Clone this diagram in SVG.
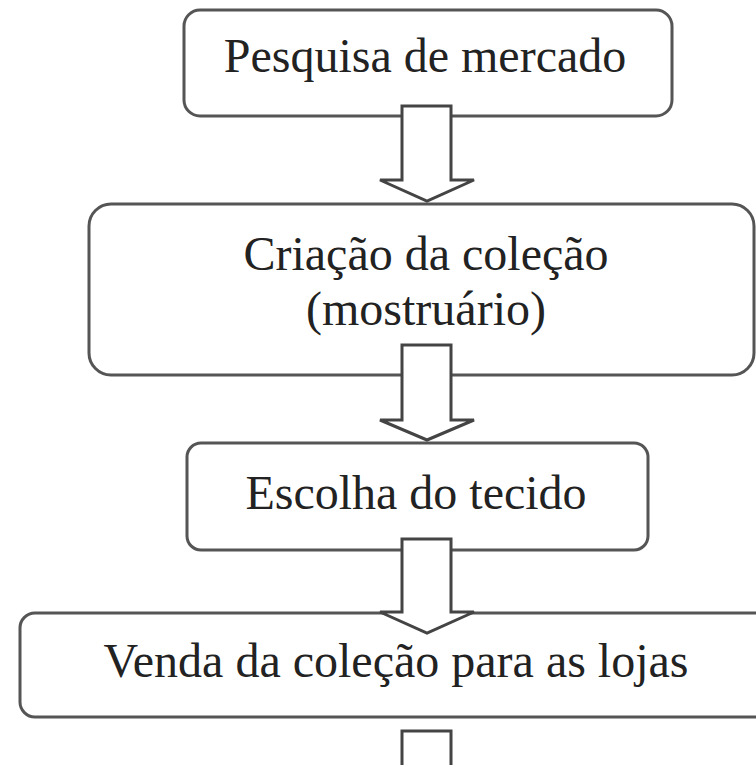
<svg xmlns="http://www.w3.org/2000/svg" width="756" height="765" viewBox="0 0 756 765">
<style>
.box{fill:#fff;stroke:#555;stroke-width:3}
.lbl{font-family:"Liberation Serif","Times New Roman",serif;font-size:48px;fill:#222;text-anchor:middle}
.arr{fill:#fff;stroke:#444;stroke-width:3;stroke-linejoin:miter}
</style>
<rect width="756" height="765" fill="#fff"/>
<g id="node-pesquisa">
<rect class="box" x="184" y="10" width="488" height="106" rx="16"/>
<text class="lbl" x="425" y="72">Pesquisa de mercado</text>
</g>
<g id="node-criacao">
<rect class="box" x="89" y="204" width="665" height="171" rx="22"/>
<text class="lbl" x="426" y="270">Criação da coleção</text>
<text class="lbl" x="426" y="325">(mostruário)</text>
</g>
<g id="node-escolha">
<rect class="box" x="187" y="443" width="461" height="107" rx="14"/>
<text class="lbl" x="416" y="509">Escolha do tecido</text>
</g>
<g id="node-venda">
<rect class="box" x="20" y="613" width="760" height="104" rx="15"/>
<text class="lbl" x="396" y="677">Venda da coleção para as lojas</text>
</g>
<g id="connectors">
<polygon class="arr" points="402,106 451,106 451,180 474,180 427,201 380,180 402,180"/>
<polygon class="arr" points="402,345 451,345 451,420 474,420 427,440 380,420 402,420"/>
<polygon class="arr" points="402,539 451,539 451,612 474,612 427,633 380,612 402,612"/>
<polygon class="arr" points="402,731 451,731 451,800 402,800"/>
</g>
</svg>
